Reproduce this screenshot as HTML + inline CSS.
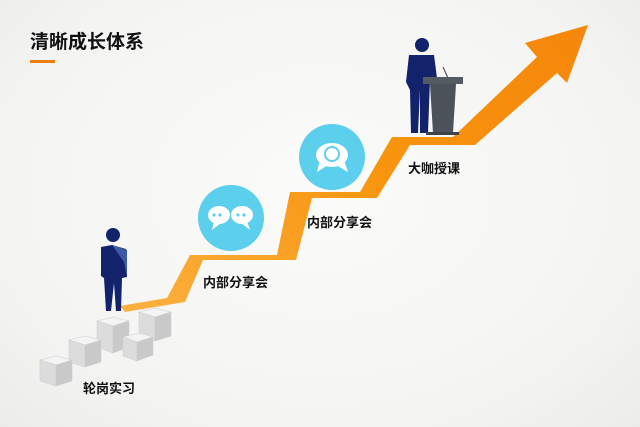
<!DOCTYPE html>
<html><head><meta charset="utf-8"><style>
html,body{margin:0;padding:0;}
body{width:640px;height:427px;overflow:hidden;background:radial-gradient(ellipse at 50% 45%,#fbfbfa 0%,#f4f4f2 70%,#ecece9 100%);position:relative;font-family:"Liberation Sans","Noto Sans CJK SC",sans-serif;}
.t{position:absolute;font-weight:bold;color:#111;white-space:nowrap;}
</style></head><body>
<div class="t" style="left:30px;top:27px;font-size:19px;">清晰成长体系</div>
<div style="position:absolute;left:30px;top:60px;width:25px;height:3px;background:#f07d10;"></div>
<svg width="640" height="427" style="position:absolute;left:0;top:0">
<defs>
<linearGradient id="g" x1="0" y1="1" x2="1" y2="0"><stop offset="0" stop-color="#fbb040"/><stop offset="0.5" stop-color="#f8960f"/><stop offset="1" stop-color="#f5860a"/></linearGradient>
<linearGradient id="cb" x1="0" y1="0" x2="0" y2="1"><stop offset="0" stop-color="#f2f2f2"/><stop offset="1" stop-color="#d4d4d4"/></linearGradient>
</defs>
<polygon fill="url(#g)" points="120,306 167,298 190,255 277,255 290,192 360,192 392,137 453,137 537,57 525,43 588,25 567,83 557,73 475,145 410,145 377,198 312,198 296,260 203,260 185,302 125,312"/>
<!-- cubes -->
<g stroke="#cfcfcf" stroke-width="0.6">
<g transform="translate(97,317)"><polygon points="0,4 16,0 32,4 16,9" fill="#f4f4f4"/><polygon points="0,4 16,9 16,36 0,30" fill="#dcdcdc"/><polygon points="16,9 32,4 32,30 16,36" fill="#c9c9c9"/></g>
<g transform="translate(139,308)"><polygon points="0,4 16,0 32,4 16,9" fill="#f4f4f4"/><polygon points="0,4 16,9 16,33 0,28" fill="#dcdcdc"/><polygon points="16,9 32,4 32,28 16,33" fill="#c9c9c9"/></g>
<g transform="translate(69,336)"><polygon points="0,4 16,0 32,4 16,9" fill="#f4f4f4"/><polygon points="0,4 16,9 16,31 0,26" fill="#dcdcdc"/><polygon points="16,9 32,4 32,26 16,31" fill="#c9c9c9"/></g>
<g transform="translate(123,333)"><polygon points="0,4 16,0 30,4 14,9" fill="#f4f4f4"/><polygon points="0,4 14,9 14,28 0,23" fill="#dcdcdc"/><polygon points="14,9 30,4 30,22 14,28" fill="#c9c9c9"/></g>
<g transform="translate(40,356)"><polygon points="0,4 16,0 32,4 16,9" fill="#f4f4f4"/><polygon points="0,4 16,9 16,30 0,25" fill="#dcdcdc"/><polygon points="16,9 32,4 32,25 16,30" fill="#c9c9c9"/></g>
</g>
<!-- person 1 -->
<circle cx="113" cy="235" r="7" fill="#13236b"/>
<path d="M101,247 L112,245 L126,249 L127,277 L122,278 L121,311 L116,311 L114,283 L111,311 L106,311 L104,278 L101,276 Z" fill="#13236b"/>
<path d="M112,245 L124,262 L127,277 L127,250 Z" fill="#3c5aa8"/>
<!-- circles -->
<circle cx="231" cy="218" r="33" fill="#5ccfec"/>
<ellipse cx="219" cy="215" rx="11" ry="9" fill="#fff"/><ellipse cx="242" cy="215" rx="11" ry="9" fill="#fff"/>
<polygon points="214,221 212,230 221,223" fill="#fff"/><polygon points="247,221 250,230 241,223" fill="#fff"/>
<circle cx="214" cy="215" r="1.6" fill="#5ccfec"/><circle cx="220" cy="215" r="1.6" fill="#5ccfec"/><circle cx="238" cy="215" r="1.6" fill="#5ccfec"/><circle cx="244" cy="215" r="1.6" fill="#5ccfec"/>
<circle cx="332" cy="157" r="33" fill="#5ccfec"/>
<ellipse cx="332" cy="155" rx="16" ry="12" fill="#fff"/>
<polygon points="320,160 317,172 328,165" fill="#fff"/><polygon points="344,160 348,172 336,165" fill="#fff"/>
<circle cx="332" cy="154" r="7" fill="none" stroke="#5ccfec" stroke-width="2"/>
<!-- person 2 + podium -->
<circle cx="422" cy="45" r="7" fill="#13236b"/>
<path d="M409,55 L434,55 L437,78 L430,80 L428,133 L420,133 L420,90 L418,133 L411,133 L410,90 L406,82 Z" fill="#13236b"/>
<line x1="443" y1="67" x2="448" y2="78" stroke="#555" stroke-width="1.2"/>
<rect x="423" y="77" width="40" height="7" fill="#555b63"/>
<polygon points="430,84 456,84 453,133 433,133" fill="#4b525a"/>
<rect x="426" y="132" width="33" height="3" fill="#3c4249"/>
</svg>
<div class="t" style="left:83px;top:378px;font-size:13px;">轮岗实习</div>
<div class="t" style="left:203px;top:272px;font-size:13px;">内部分享会</div>
<div class="t" style="left:307px;top:212px;font-size:13px;">内部分享会</div>
<div class="t" style="left:408px;top:158px;font-size:13px;">大咖授课</div>
</body></html>
